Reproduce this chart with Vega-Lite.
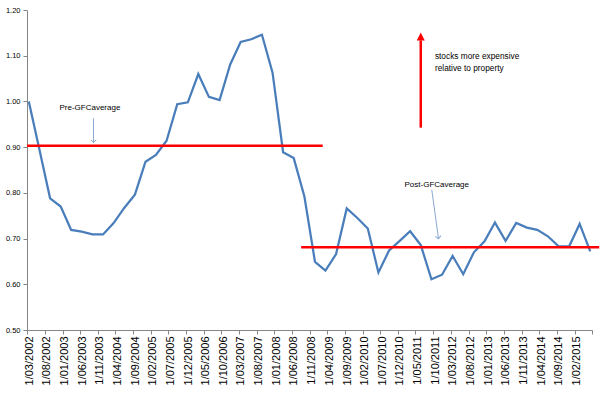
{
  "$schema": "https://vega.github.io/schema/vega-lite/v6.json",
  "width": 565,
  "height": 320,
  "autosize": {"type": "none"},
  "padding": {"left": 27, "top": 10, "right": 10, "bottom": 63},
  "background": "white",
  "config": {
    "view": {"stroke": null},
    "axis": {"grid": false, "domainColor": "#868686", "tickColor": "#868686", "labelColor": "#000000", "labelFont": "Liberation Sans", "title": null},
    "text": {"font": "Liberation Sans"}
  },
  "datasets": {
    "series": [
      {"date": "2002-03-01", "ratio": 1.000},
      {"date": "2002-06-01", "ratio": 0.895},
      {"date": "2002-09-01", "ratio": 0.788},
      {"date": "2002-12-01", "ratio": 0.770},
      {"date": "2003-03-01", "ratio": 0.719},
      {"date": "2003-06-01", "ratio": 0.715},
      {"date": "2003-09-01", "ratio": 0.709},
      {"date": "2003-12-01", "ratio": 0.709},
      {"date": "2004-03-01", "ratio": 0.734},
      {"date": "2004-06-01", "ratio": 0.767},
      {"date": "2004-09-01", "ratio": 0.796},
      {"date": "2004-12-01", "ratio": 0.868},
      {"date": "2005-03-01", "ratio": 0.883},
      {"date": "2005-06-01", "ratio": 0.914},
      {"date": "2005-09-01", "ratio": 0.994},
      {"date": "2005-12-01", "ratio": 0.998},
      {"date": "2006-03-01", "ratio": 1.060},
      {"date": "2006-06-01", "ratio": 1.010},
      {"date": "2006-09-01", "ratio": 1.003},
      {"date": "2006-12-01", "ratio": 1.081},
      {"date": "2007-03-01", "ratio": 1.130},
      {"date": "2007-06-01", "ratio": 1.136},
      {"date": "2007-09-01", "ratio": 1.146},
      {"date": "2007-12-01", "ratio": 1.063},
      {"date": "2008-03-01", "ratio": 0.889},
      {"date": "2008-06-01", "ratio": 0.876},
      {"date": "2008-09-01", "ratio": 0.792},
      {"date": "2008-12-01", "ratio": 0.649},
      {"date": "2009-03-01", "ratio": 0.630},
      {"date": "2009-06-01", "ratio": 0.666},
      {"date": "2009-09-01", "ratio": 0.766},
      {"date": "2009-12-01", "ratio": 0.745},
      {"date": "2010-03-01", "ratio": 0.722},
      {"date": "2010-06-01", "ratio": 0.626},
      {"date": "2010-09-01", "ratio": 0.674},
      {"date": "2010-12-01", "ratio": 0.695},
      {"date": "2011-03-01", "ratio": 0.716},
      {"date": "2011-06-01", "ratio": 0.686},
      {"date": "2011-09-01", "ratio": 0.611},
      {"date": "2011-12-01", "ratio": 0.621},
      {"date": "2012-03-01", "ratio": 0.662},
      {"date": "2012-06-01", "ratio": 0.622},
      {"date": "2012-09-01", "ratio": 0.670},
      {"date": "2012-12-01", "ratio": 0.694},
      {"date": "2013-03-01", "ratio": 0.735},
      {"date": "2013-06-01", "ratio": 0.695},
      {"date": "2013-09-01", "ratio": 0.734},
      {"date": "2013-12-01", "ratio": 0.724},
      {"date": "2014-03-01", "ratio": 0.719},
      {"date": "2014-06-01", "ratio": 0.705},
      {"date": "2014-09-01", "ratio": 0.683},
      {"date": "2014-12-01", "ratio": 0.683},
      {"date": "2015-03-01", "ratio": 0.732},
      {"date": "2015-06-01", "ratio": 0.672}
    ],
    "averages": [
      {"period": "Pre-GFC", "start": "2002-03-01", "end": "2009-02-21", "avg": 0.903},
      {"period": "Post-GFC", "start": "2008-08-19", "end": "2015-09-01", "avg": 0.681}
    ],
    "pointers": [
      {"name": "pre", "x1": "2003-09-25", "y1": 0.963, "x2": "2003-09-25", "y2": 0.910},
      {"name": "post", "x1": "2011-09-19", "y1": 0.8066, "x2": "2011-11-16", "y2": 0.6996}
    ],
    "bigArrow": [
      {"x": "2011-06-16", "from": 0.9426, "to": 1.1334}
    ],
    "centerNotes": [
      {"x": "2003-08-25", "y": 0.986, "text": "Pre-GFCaverage"},
      {"x": "2011-11-01", "y": 0.8175, "text": "Post-GFCaverage"}
    ],
    "leftNotes": [
      {"x": "2011-10-16", "y": 1.0963, "text": "stocks more expensive"},
      {"x": "2011-10-16", "y": 1.0714, "text": "relative to property"}
    ]
  },
  "layer": [
    {
      "data": {"name": "series"},
      "mark": {"type": "line", "color": "#4A7EBB", "strokeWidth": 2.25},
      "encoding": {
        "x": {
          "field": "date", "type": "temporal", "timeUnit": "utcyearmonth", "bandPosition": 0.5,
          "scale": {"type": "utc", "domain": [{"year": 2002, "month": 3, "date": 1, "utc": true}, {"year": 2015, "month": 7, "date": 1, "utc": true}]},
          "axis": {
            "values": [
              {"year": 2002, "month": 3, "date": 1, "utc": true},
              {"year": 2002, "month": 8, "date": 1, "utc": true},
              {"year": 2003, "month": 1, "date": 1, "utc": true},
              {"year": 2003, "month": 6, "date": 1, "utc": true},
              {"year": 2003, "month": 11, "date": 1, "utc": true},
              {"year": 2004, "month": 4, "date": 1, "utc": true},
              {"year": 2004, "month": 9, "date": 1, "utc": true},
              {"year": 2005, "month": 2, "date": 1, "utc": true},
              {"year": 2005, "month": 7, "date": 1, "utc": true},
              {"year": 2005, "month": 12, "date": 1, "utc": true},
              {"year": 2006, "month": 5, "date": 1, "utc": true},
              {"year": 2006, "month": 10, "date": 1, "utc": true},
              {"year": 2007, "month": 3, "date": 1, "utc": true},
              {"year": 2007, "month": 8, "date": 1, "utc": true},
              {"year": 2008, "month": 1, "date": 1, "utc": true},
              {"year": 2008, "month": 6, "date": 1, "utc": true},
              {"year": 2008, "month": 11, "date": 1, "utc": true},
              {"year": 2009, "month": 4, "date": 1, "utc": true},
              {"year": 2009, "month": 9, "date": 1, "utc": true},
              {"year": 2010, "month": 2, "date": 1, "utc": true},
              {"year": 2010, "month": 7, "date": 1, "utc": true},
              {"year": 2010, "month": 12, "date": 1, "utc": true},
              {"year": 2011, "month": 5, "date": 1, "utc": true},
              {"year": 2011, "month": 10, "date": 1, "utc": true},
              {"year": 2012, "month": 3, "date": 1, "utc": true},
              {"year": 2012, "month": 8, "date": 1, "utc": true},
              {"year": 2013, "month": 1, "date": 1, "utc": true},
              {"year": 2013, "month": 6, "date": 1, "utc": true},
              {"year": 2013, "month": 11, "date": 1, "utc": true},
              {"year": 2014, "month": 4, "date": 1, "utc": true},
              {"year": 2014, "month": 9, "date": 1, "utc": true},
              {"year": 2015, "month": 2, "date": 1, "utc": true},
              {"year": 2015, "month": 7, "date": 1, "utc": true}
            ],
            "tickCount": 100,
            "labelExpr": "utcFormat(datum.value, '%Y%m') == '201507' ? '' : utcFormat(datum.value, '%-d/%m/%Y')",
            "labelAngle": 270,
            "labelFontSize": 11,
            "labelPadding": 2,
            "labelOffset": 2,
            "tickSize": 4,
            "labelOverlap": false,
            "labelBound": false,
            "labelFlush": false
          }
        },
        "y": {
          "field": "ratio", "type": "quantitative",
          "scale": {"domain": [0.5, 1.2], "zero": false, "nice": false},
          "axis": {"values": [0.5, 0.6, 0.7, 0.8, 0.9, 1.0, 1.1, 1.2], "format": ".2f", "labelFontSize": 7.5, "tickSize": 4, "labelPadding": 3}
        }
      }
    },
    {
      "data": {"name": "averages"},
      "mark": {"type": "rule", "color": "#FF0000", "strokeWidth": 2.5},
      "encoding": {
        "x": {"field": "start", "type": "temporal"},
        "x2": {"field": "end"},
        "y": {"field": "avg", "type": "quantitative"}
      }
    },
    {
      "data": {"name": "pointers"},
      "mark": {"type": "rule", "color": "#8AA8D0", "strokeWidth": 1},
      "encoding": {
        "x": {"field": "x1", "type": "temporal"},
        "x2": {"field": "x2"},
        "y": {"field": "y1", "type": "quantitative"},
        "y2": {"field": "y2"}
      }
    },
    {
      "data": {"name": "pointers"},
      "transform": [{"filter": "datum.name == 'pre'"}],
      "mark": {"type": "point", "shape": "M-1,-1L0,0L1,-1", "size": 30, "filled": false, "stroke": "#8AA8D0", "strokeWidth": 1, "opacity": 1},
      "encoding": {
        "x": {"field": "x2", "type": "temporal"},
        "y": {"field": "y2", "type": "quantitative"}
      }
    },
    {
      "data": {"name": "pointers"},
      "transform": [{"filter": "datum.name == 'post'"}],
      "mark": {"type": "point", "shape": "M-1,-1L0,0L1,-1", "size": 30, "angle": -7.7, "filled": false, "stroke": "#8AA8D0", "strokeWidth": 1, "opacity": 1},
      "encoding": {
        "x": {"field": "x2", "type": "temporal"},
        "y": {"field": "y2", "type": "quantitative"}
      }
    },
    {
      "data": {"name": "bigArrow"},
      "mark": {"type": "rule", "color": "#FF0000", "strokeWidth": 2.5},
      "encoding": {
        "x": {"field": "x", "type": "temporal"},
        "y": {"field": "from", "type": "quantitative"},
        "y2": {"field": "to"}
      }
    },
    {
      "data": {"name": "bigArrow"},
      "mark": {"type": "point", "shape": "M0,-2L1,0L-1,0Z", "size": 64, "filled": true, "color": "#FF0000", "opacity": 1},
      "encoding": {
        "x": {"field": "x", "type": "temporal"},
        "y": {"field": "to", "type": "quantitative"}
      }
    },
    {
      "data": {"name": "centerNotes"},
      "mark": {"type": "text", "align": "center", "baseline": "middle", "fontSize": 8, "color": "#000000"},
      "encoding": {
        "x": {"field": "x", "type": "temporal"},
        "y": {"field": "y", "type": "quantitative"},
        "text": {"field": "text"}
      }
    },
    {
      "data": {"name": "leftNotes"},
      "mark": {"type": "text", "align": "left", "baseline": "middle", "fontSize": 8.3, "color": "#000000"},
      "encoding": {
        "x": {"field": "x", "type": "temporal"},
        "y": {"field": "y", "type": "quantitative"},
        "text": {"field": "text"}
      }
    }
  ]
}
